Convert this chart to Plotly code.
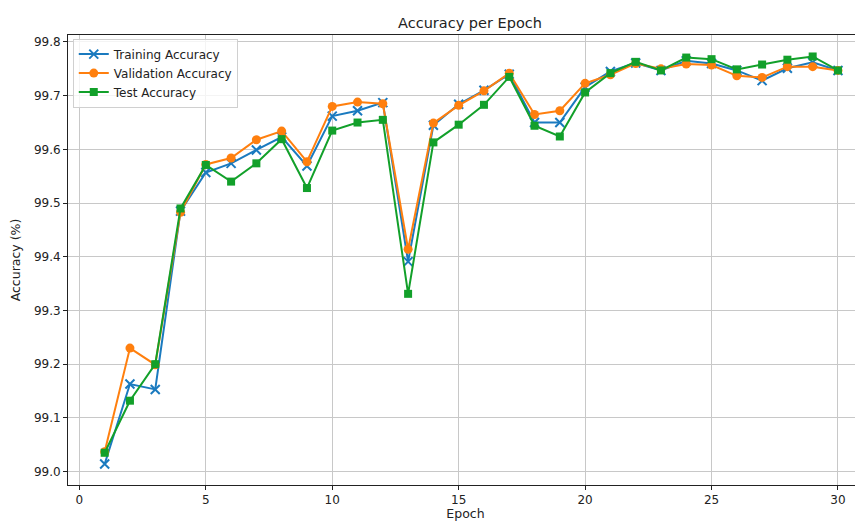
import plotly.graph_objects as go

epochs = list(range(1, 31))
train_acc = [99.014, 99.163, 99.153, 99.485, 99.557, 99.574, 99.599, 99.623, 99.569, 99.662,
             99.672, 99.687, 99.391, 99.645, 99.684, 99.710, 99.740, 99.650, 99.650, 99.716,
             99.745, 99.761, 99.747, 99.765, 99.760, 99.747, 99.728, 99.751, 99.762, 99.747]
val_acc = [99.037, 99.230, 99.199, 99.483, 99.572, 99.584, 99.618, 99.634, 99.577, 99.680,
           99.688, 99.685, 99.414, 99.649, 99.682, 99.709, 99.742, 99.665, 99.672, 99.723,
           99.739, 99.760, 99.750, 99.759, 99.757, 99.737, 99.734, 99.754, 99.754, 99.747]
test_acc = [99.035, 99.132, 99.200, 99.490, 99.571, 99.540, 99.574, 99.619, 99.528, 99.635,
            99.650, 99.655, 99.331, 99.613, 99.646, 99.683, 99.735, 99.644, 99.624, 99.706,
            99.742, 99.763, 99.747, 99.771, 99.768, 99.749, 99.758, 99.767, 99.773, 99.747]

series = [
    ("Training Accuracy", train_acc, "#1a7abf", "x-thin", 9),
    ("Validation Accuracy", val_acc, "#ff7f0e", "circle", 9),
    ("Test Accuracy", test_acc, "#12a02a", "square", 8),
]

fig = go.Figure()
for name, vals, color, sym, size in series:
    fig.add_trace(go.Scatter(
        x=epochs, y=vals, name=name, mode="lines+markers",
        line=dict(color=color, width=2),
        marker=dict(symbol=sym, size=size, color=color,
                    line=dict(color=color, width=2 if sym == "x-thin" else 0)),
    ))

font = "DejaVu Sans, sans-serif"
W, H = 855, 513
fig.update_layout(
    width=W, height=H,
    margin=dict(l=60, r=0, t=27, b=36, autoexpand=False),
    plot_bgcolor="white", paper_bgcolor="white",
    font=dict(family=font, size=12, color="#222"),
    title=dict(text="Accuracy per Epoch", x=462 / W, xref="container", xanchor="center",
               y=1 - 15 / H, yref="container", yanchor="middle",
               font=dict(family=font, size=14.5, color="#222")),
    legend=dict(x=0.006, y=0.992, xanchor="left", yanchor="top",
                bgcolor="rgba(255,255,255,0.8)", bordercolor="#d0d0d0", borderwidth=1,
                font=dict(family=font, size=12, color="#222"), tracegroupgap=0,
                itemwidth=30),
    showlegend=True,
)
fig.update_xaxes(
    range=[-0.45, 30.99], tickmode="array", tickvals=[0, 5, 10, 15, 20, 25, 30],
    showgrid=True, gridcolor="#c8c8c8", gridwidth=1, zeroline=False,
    showline=True, linecolor="#222", linewidth=1, mirror=True,
    ticks="outside", ticklen=4, tickcolor="#222", automargin=False,
    tickfont=dict(family=font, size=12, color="#222"),
    title=dict(text="Epoch", standoff=1, font=dict(family=font, size=12.5, color="#222")),
)
fig.update_yaxes(
    range=[98.975, 99.813], tickmode="array",
    tickvals=[99.0, 99.1, 99.2, 99.3, 99.4, 99.5, 99.6, 99.7, 99.8],
    ticktext=["99.0", "99.1", "99.2", "99.3", "99.4", "99.5", "99.6", "99.7", "99.8"],
    showgrid=True, gridcolor="#c8c8c8", gridwidth=1, zeroline=False,
    showline=True, linecolor="#222", linewidth=1,
    ticks="outside", ticklen=4, tickcolor="#222", automargin=False,
    tickfont=dict(family=font, size=12, color="#222"),
    title=dict(text="Accuracy (%)", standoff=10, font=dict(family=font, size=12.5, color="#222")),
)

fig.write_html("out.html")
